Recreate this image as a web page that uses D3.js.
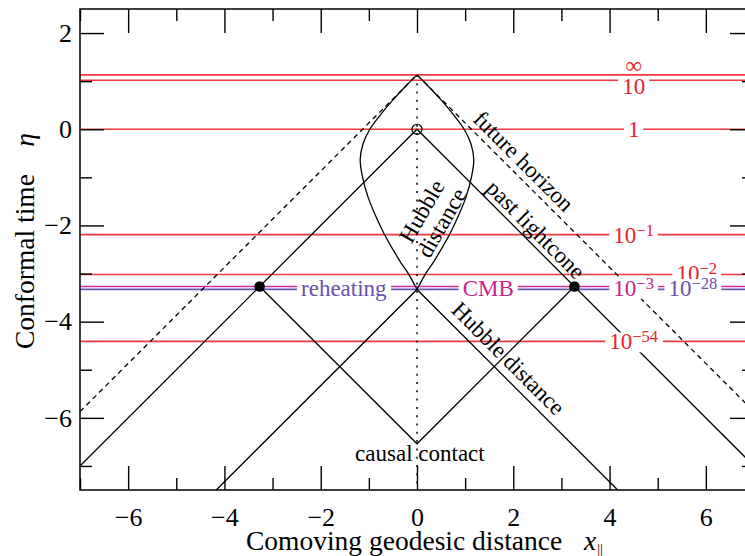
<!DOCTYPE html>
<html><head><meta charset="utf-8">
<script src="https://cdn.jsdelivr.net/npm/d3@7"></script>
<style>body{margin:0;background:#fff}svg{display:block}text{font-family:"Liberation Serif","Times New Roman",serif}</style>
</head><body><svg id="chart" width="745" height="556"></svg>
<script>
// ---------------- data ----------------
const xMajorTicks = [-6, -4, -2, 0, 2, 4, 6];
const xMinorTicks = [-7, -5, -3, -1, 1, 3, 5, 7];
const yMajorTicks = [-6, -4, -2, 0, 2];
const yMinorTicks = [-7, -5, -3, -1, 1];

// horizontal lines of constant scale factor a
const scaleEta   = [1.13, 1.02, 0, -2.19, -3.02, -3.27, -3.33, -4.41];
const scaleBase  = ["∞", "10", "1", "10", "10", "10", "10", "10"];
const scaleExp   = ["", "", "", "−1", "−2", "−3", "−28", "−54"];
const scaleKind  = ["red", "red", "red", "red", "red", "cmb", "reheat", "red"];

// Hubble distance (comoving) leaf, right half; left half is mirror image
const hubbleEta = [1.13, 0.9, 0.61, 0.3, 0, -0.3, -0.63, -1.0, -1.4, -1.8, -2.2, -2.5, -2.75, -3.0, -3.33];
const hubbleX   = [0, 0.23, 0.5, 0.76, 0.98, 1.12, 1.18, 1.13, 1.02, 0.86, 0.67, 0.5, 0.35, 0.18, 0];

const pastLightX = [-7, 0, 7],        pastLightEta = [-7, 0, -7];
const futureHorX = [-7, 0, 7],        futureHorEta = [-5.87, 1.13, -5.87];
const hubbleLowX = [-4.17, 0, 4.17],  hubbleLowEta = [-7.5, -3.33, -7.5];
const causalX    = [-3.27, 0, 3.27],  causalEta    = [-3.27, -6.54, -3.27];
const dotX = [-3.27, 3.27], dotEta = [-3.27, -3.27];
const centerX = [0], centerEta = [0];
const axisLineX = [0, 0], axisLineEta = [1.13, -7.5];

// ---------------- layout ----------------
const colors = {red: "#ee3a40", cmb: "#cf2d97", reheat: "#6d55b2"};
const textColors = {red: "#e8222c", cmb: "#c8238f", reheat: "#6a4fae"};
const svg = d3.select("#chart");
const x = d3.scaleLinear().domain([-7, 7]).range([80, 754]);
const y = d3.scaleLinear().domain([-7.5, 2.5]).range([490, 9]);

const line = d3.line().x(d => x(d[0])).y(d => y(d[1]));
const zip = (a, b) => a.map((v, i) => [v, b[i]]);

// constant-a lines
const hg = svg.append("g");
scaleEta.forEach((e, i) => {
  hg.append("line").attr("x1", x(-7)).attr("x2", x(7)).attr("y1", y(e)).attr("y2", y(e))
    .attr("stroke", colors[scaleKind[i]]).attr("stroke-width", 1.6);
});

// black lines
const bg = svg.append("g").attr("fill", "none").attr("stroke", "#000").attr("stroke-width", 1.3);
bg.append("path").attr("d", line(zip(axisLineX, axisLineEta))).attr("stroke-dasharray", "2,6.3").attr("stroke-width", 1.5);
bg.append("path").attr("d", line(zip(pastLightX, pastLightEta)));
bg.append("path").attr("d", line(zip(futureHorX, futureHorEta))).attr("stroke-dasharray", "5,4");
bg.append("path").attr("d", line(zip(hubbleLowX, hubbleLowEta)));
bg.append("path").attr("d", line(zip(causalX, causalEta)));
const curve = d3.line().x(d => x(d[0])).y(d => y(d[1])).curve(d3.curveCatmullRom);
bg.append("path").attr("d", curve(zip(hubbleX, hubbleEta)));
bg.append("path").attr("d", curve(zip(hubbleX.map(v => -v), hubbleEta)));
svg.append("g").selectAll("circle").data(zip(dotX, dotEta)).join("circle")
  .attr("cx", d => x(d[0])).attr("cy", d => y(d[1])).attr("r", 5.3).attr("fill", "#000");
svg.append("g").selectAll("circle").data(zip(centerX, centerEta)).join("circle")
  .attr("cx", d => x(d[0])).attr("cy", d => y(d[1])).attr("r", 5).attr("fill", "none")
  .attr("stroke", "#000").attr("stroke-width", 1.2);

// labels with white gaps
function gapLabel(px, py, base, exp, color, fs, gap) {
  const g = svg.append("g");
  const t = g.append("text").attr("x", px).attr("y", py).attr("text-anchor", "middle")
    .attr("dy", "0.35em").attr("fill", color).style("font-size", fs + "px");
  t.append("tspan").text(base);
  if (exp) t.append("tspan").attr("dy", "-0.42em").style("font-size", (fs * 0.72) + "px").text(exp);
  if (gap) {
    const bb = t.node().getBBox();
    g.insert("rect", "text").attr("x", bb.x - 4).attr("width", bb.width + 8)
      .attr("y", py - 9).attr("height", 20).attr("fill", "#fff");
  }
}
const scaleLabelX  = [4.5, 4.5, 4.5, 4.5, 5.81, 4.5, 5.73, 4.5];
const scaleLabelDy = [-10, 6, 0, 0, -2, 0, 0, 0];
const scaleLabelEta = [1.13, 1.02, 0, -2.19, -3.02, -3.30, -3.30, -4.41];
scaleEta.forEach((e, i) => {
  gapLabel(x(scaleLabelX[i]), y(scaleLabelEta[i]) + scaleLabelDy[i], scaleBase[i], scaleExp[i],
    textColors[scaleKind[i]], 23, i !== 0);
});
gapLabel(x(-1.52), y(-3.30), "reheating", "", textColors.reheat, 23, true);
gapLabel(x(1.48), y(-3.30), "CMB", "", textColors.cmb, 23, true);

// rotated black labels
function rotLabel(dx, de, angle, lines, fs) {
  const g = svg.append("g").attr("transform", `translate(${x(dx)},${y(de)}) rotate(${angle})`);
  lines.forEach((s, i) => {
    g.append("text").attr("text-anchor", "middle").attr("dy", "0.35em")
      .attr("y", (i - (lines.length - 1) / 2) * 23).style("font-size", fs + "px").text(s);
  });
}
rotLabel(2.22, -0.66, 45, ["future horizon"], 23);
rotLabel(2.47, -2.08, 45, ["past lightcone"], 23);
rotLabel(1.9, -4.76, 45, ["Hubble distance"], 23);
rotLabel(0.3, -1.82, -60, ["Hubble", "distance"], 23);
rotLabel(0.06, -6.72, 0, ["causal contact"], 23);

// axes (inward ticks, all four sides)
function styleAxis(g) {
  g.select(".domain").remove();
  g.selectAll(".tick line").attr("stroke", "#000").attr("stroke-width", 1.4);
  g.selectAll("text").style("font-size", "26px").attr("fill", "#000")
    .style("font-family", '"Liberation Serif","Times New Roman",serif');
}
const fmt = d3.format("d");
svg.append("g").attr("transform", `translate(0,${y(-7.5)})`)
  .call(d3.axisBottom(x).tickValues(xMajorTicks).tickSize(-24).tickPadding(18).tickFormat(fmt)).call(styleAxis);
svg.append("g").attr("transform", `translate(0,${y(-7.5)})`)
  .call(d3.axisBottom(x).tickValues(xMinorTicks).tickSize(-12).tickFormat("")).call(styleAxis);
svg.append("g").attr("transform", `translate(0,${y(2.5)})`)
  .call(d3.axisTop(x).tickValues(xMajorTicks).tickSize(-24).tickFormat("")).call(styleAxis);
svg.append("g").attr("transform", `translate(0,${y(2.5)})`)
  .call(d3.axisTop(x).tickValues(xMinorTicks).tickSize(-12).tickFormat("")).call(styleAxis);
svg.append("g").attr("transform", `translate(${x(-7)},0)`)
  .call(d3.axisLeft(y).tickValues(yMajorTicks).tickSize(-24).tickPadding(8).tickFormat(fmt)).call(styleAxis);
svg.append("g").attr("transform", `translate(${x(-7)},0)`)
  .call(d3.axisLeft(y).tickValues(yMinorTicks).tickSize(-12).tickFormat("")).call(styleAxis);
svg.append("g").attr("transform", `translate(${x(7)},0)`)
  .call(d3.axisRight(y).tickValues(yMajorTicks).tickSize(-24).tickFormat("")).call(styleAxis);
svg.append("g").attr("transform", `translate(${x(7)},0)`)
  .call(d3.axisRight(y).tickValues(yMinorTicks).tickSize(-12).tickFormat("")).call(styleAxis);

// frame
svg.append("rect").attr("x", x(-7)).attr("y", y(2.5)).attr("width", x(7) - x(-7)).attr("height", y(-7.5) - y(2.5))
  .attr("fill", "none").attr("stroke", "#000").attr("stroke-width", 1.5);

// axis titles
const xt = svg.append("text").attr("x", 246).attr("y", 550).style("font-size", "27.5px");
xt.append("tspan").text("Comoving geodesic distance");
xt.append("tspan").attr("x", 584).style("font-style", "italic").text("x");
xt.append("tspan").attr("dy", "0.3em").attr("dx", 1).style("font-size", "14px").text("||");
const yt = svg.append("text").attr("transform", "translate(34,241) rotate(-90)").attr("text-anchor", "middle")
  .style("font-size", "27.5px");
yt.append("tspan").text("Conformal time\u2002\u2002");
yt.append("tspan").style("font-style", "italic").text("η");
</script></body></html>
